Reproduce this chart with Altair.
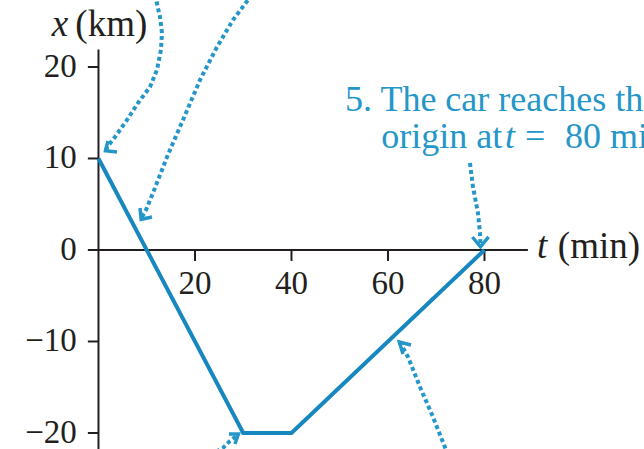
import altair as alt
import pandas as pd

# Position of the car over time
t_min = [0, 30, 40, 80]
x_km = [10, -20, -20, 0]

# Axis ticks
x_ticks = [20, 40, 60, 80]
y_ticks = [20, 10, 0, -10, -20]
y_tick_labels = ["20", "10", "0", "\u221210", "\u221220"]

# Dotted call-out arrows (t, x) in data units, one id per arrow
arrow_id = [1] * 11 + [2] * 9 + [3] * 4 + [4] * 6 + [5] * 5
arrow_t = [11.7, 12.75, 13.16, 12.95, 12.12, 10.67, 8.19, 5.91, 3.42, 1.97, 1.55,
           31.8, 27.88, 24.56, 21.04, 17.51, 14.2, 11.3, 9.84, 8.91,
           23.1, 25.8, 27.25, 28.91,
           72.44, 69.33, 66.63, 64.15, 63.11, 62.49,
           76.99, 77.62, 78.65, 79.07, 79.17]
arrow_x = [27.9, 25.46, 23.72, 21.86, 19.67, 17.81, 16.07, 14.21, 12.35, 11.37, 10.93,
           27.9, 25.14, 22.19, 18.58, 14.21, 10.16, 6.23, 4.37, 3.5,
           -22.4, -21.64, -20.87, -20.22,
           -22.4, -18.25, -14.97, -11.69, -10.71, -10.16,
           9.51, 6.89, 4.04, 1.86, 0.55]

# Arrowheads: (arm, tip, arm) for each arrow
head_id = [1] * 3 + [2] * 3 + [3] * 3 + [4] * 3 + [5] * 3
head_t = [1.97, 1.45, 3.83,
          8.6, 8.85, 11.09,
          27.05, 29.0, 28.29,
          64.77, 62.35, 63.11,
          77.5, 79.17, 80.85]
head_x = [11.91, 10.85, 10.71,
          4.59, 3.35, 3.61,
          -20.11, -20.1, -21.2,
          -10.38, -10.05, -11.37,
          1.42, 0.35, 1.42]

BLUE = "#1787c0"
CYAN = "#2596c8"
INK = "#231f20"
SERIF = "Liberation Serif"

T_DOM = [-20.41, 113.06]
X_DOM = [-21.75, 27.32]

xs = alt.Scale(domain=T_DOM, nice=False, zero=False)
ys = alt.Scale(domain=X_DOM, nice=False, zero=False)


def X(field):
    return alt.X(field, type="quantitative", scale=xs, axis=None)


def Y(field):
    return alt.Y(field, type="quantitative", scale=ys, axis=None)


# Axis lines
axes_df = pd.DataFrame({"t": [0, 0], "t2": [0, 89.0], "x": [21.9, 0], "x2": [-22.5, 0]})
axes = alt.Chart(axes_df).mark_rule(color=INK, strokeWidth=2).encode(
    x=X("t"), x2="t2", y=Y("x"), y2="x2"
)

ytick_df = pd.DataFrame({"x": y_ticks, "label": y_tick_labels})
yticks = alt.Chart(ytick_df).mark_rule(color=INK, strokeWidth=2).encode(
    x=X("a:Q"), x2=alt.X2("b:Q"), y=Y("x")
).transform_calculate(a="-2.2", b="0")
ylabels = alt.Chart(ytick_df).mark_text(
    font=SERIF, fontSize=33, color=INK, align="right", baseline="middle"
).encode(x=X("a:Q"), y=Y("x"), text="label").transform_calculate(a="-4.5")

xtick_df = pd.DataFrame({"t": x_ticks, "label": [str(v) for v in x_ticks]})
xticks = alt.Chart(xtick_df).mark_rule(color=INK, strokeWidth=2).encode(
    x=X("t"), y=Y("a:Q"), y2=alt.Y2("b:Q")
).transform_calculate(a="0", b="-1.2")
xlabels = alt.Chart(xtick_df).mark_text(
    font=SERIF, fontSize=33, color=INK, align="center", baseline="middle"
).encode(x=X("t"), y=Y("a:Q"), text="label").transform_calculate(a="-3.7")

# Axis titles, italic symbol + upright unit
titles_df = pd.DataFrame({
    "t": [-9.7, -4.8, 90.9, 95.2],
    "x": [23.4, 23.4, -0.87, -0.87],
    "label": ["x", "(km)", "t", "(min)"],
    "italic": [True, False, True, False],
})
title_it = alt.Chart(titles_df).mark_text(
    font=SERIF, fontSize=37, fontStyle="italic", color=INK, align="left", baseline="alphabetic"
).encode(x=X("t"), y=Y("x"), text="label").transform_filter("datum.italic")
title_up = alt.Chart(titles_df).mark_text(
    font=SERIF, fontSize=37, color=INK, align="left", baseline="alphabetic"
).encode(x=X("t"), y=Y("x"), text="label").transform_filter("!datum.italic")

# The position curve
curve = alt.Chart(pd.DataFrame({"t": t_min, "x": x_km})).mark_line(
    color=BLUE, strokeWidth=4, strokeJoin="miter"
).encode(x=X("t"), y=Y("x"), order="t")

# Dotted call-outs
arr_df = pd.DataFrame({"id": arrow_id, "t": arrow_t, "x": arrow_x, "o": list(range(len(arrow_t)))})
arrows = alt.Chart(arr_df).mark_line(
    color=CYAN, strokeWidth=4, strokeDash=[4, 3], strokeCap="butt", clip=True
).encode(x=X("t"), y=Y("x"), detail="id:N", order="o:Q")

head_df = pd.DataFrame({"id": head_id, "t": head_t, "x": head_x, "o": list(range(len(head_t)))})
heads = alt.Chart(head_df).mark_line(
    color=CYAN, strokeWidth=3.5, strokeJoin="miter", clip=True
).encode(x=X("t"), y=Y("x"), detail="id:N", order="o:Q")

# Note 5
note_df = pd.DataFrame({
    "t": [51.1, 58.6, 84.25, 88.4, 96.7],
    "x": [15.2, 11.15, 11.15, 11.15, 11.15],
    "label": ["5. The car reaches the", "origin at", "t", "=", "80 min."],
    "italic": [False, False, True, False, False],
})
note_up = alt.Chart(note_df).mark_text(
    font=SERIF, fontSize=36, color=CYAN, align="left", baseline="alphabetic", clip=True
).encode(x=X("t"), y=Y("x"), text="label").transform_filter("!datum.italic")
note_it = alt.Chart(note_df).mark_text(
    font=SERIF, fontSize=36, fontStyle="italic", color=CYAN, align="left", baseline="alphabetic", clip=True
).encode(x=X("t"), y=Y("x"), text="label").transform_filter("datum.italic")

chart = alt.layer(
    axes, yticks, xticks, ylabels, xlabels, title_it, title_up,
    arrows, heads, curve, note_up, note_it,
).properties(
    width=644, height=449, autosize=alt.AutoSizeParams(type="none"), padding=0,
    background="white",
).configure_view(stroke=None)

chart.save("out.html", embed_options={"renderer": "svg", "actions": False})
